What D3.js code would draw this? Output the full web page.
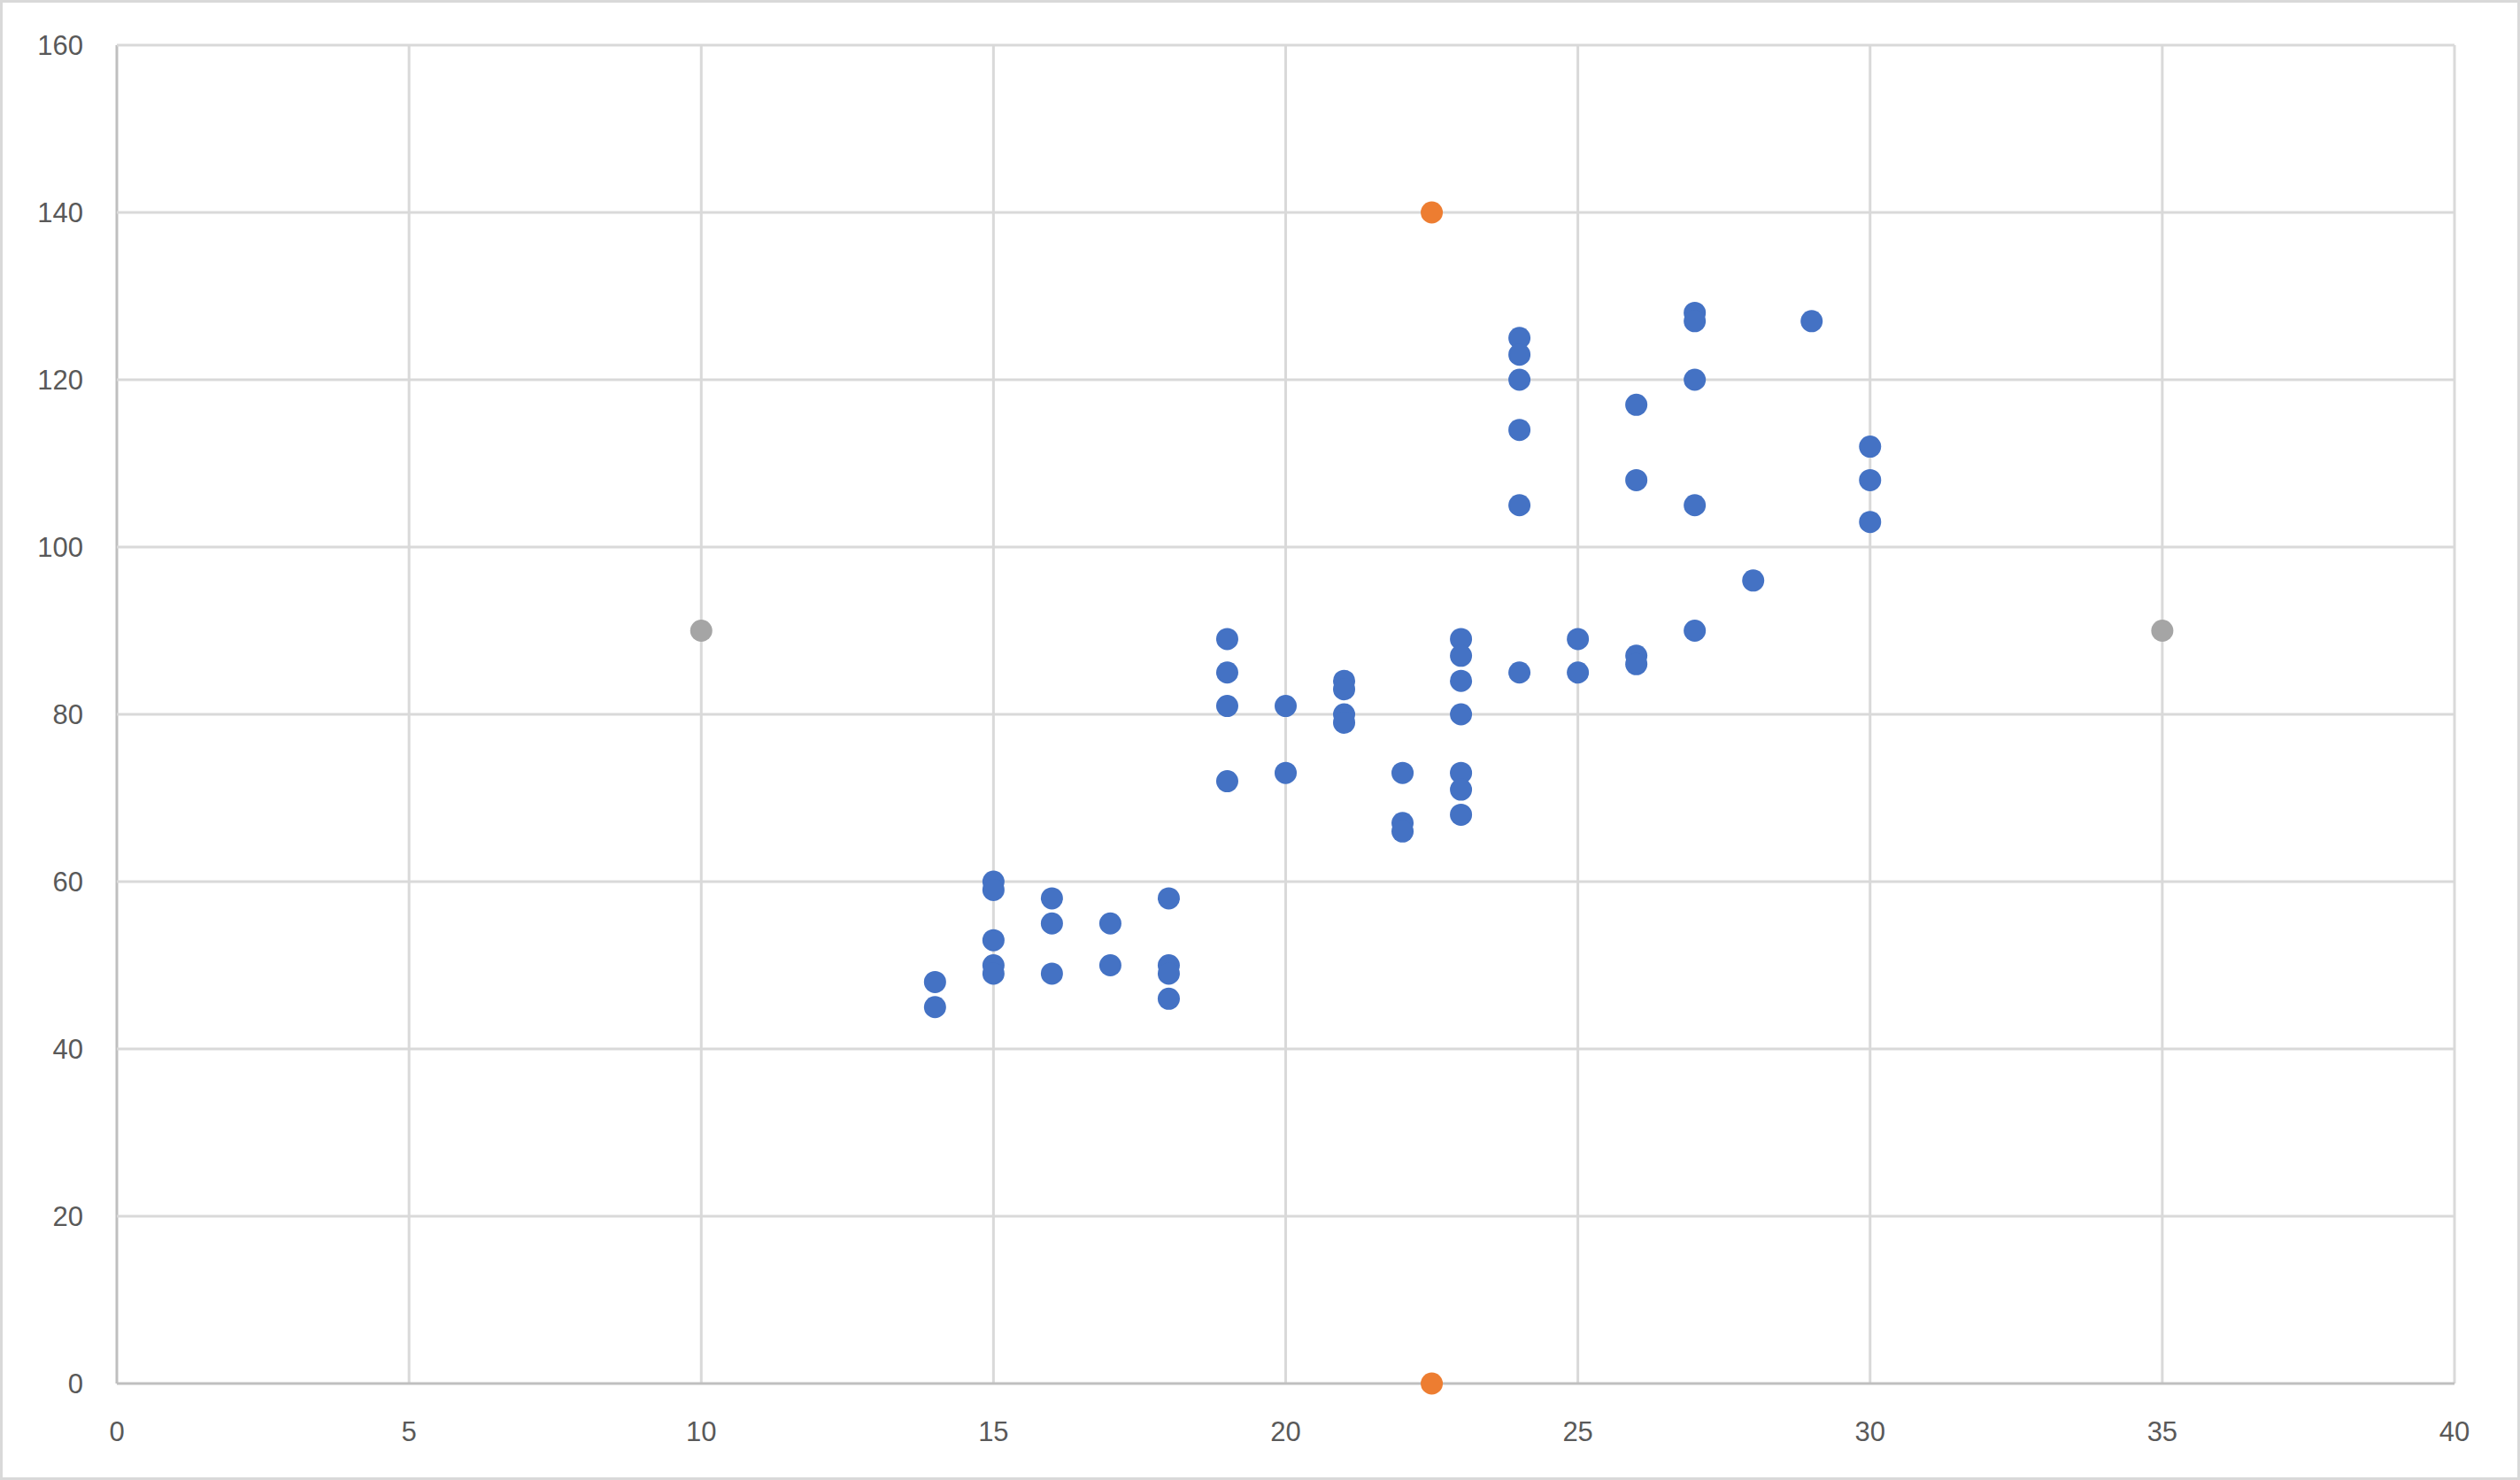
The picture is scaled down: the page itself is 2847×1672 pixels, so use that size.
<!DOCTYPE html>
<html><head><meta charset="utf-8">
<script src="https://cdn.jsdelivr.net/npm/d3@7"></script>
<style>html,body{margin:0;padding:0;background:#fff}</style>
</head><body>
<script>
const xTicks=[0,5,10,15,20,25,30,35,40];
const yTicks=[0,20,40,60,80,100,120,140,160];
const blueX=[14,14,15,15,15,15,15,16,16,16,17,17,18,18,18,18,19,19,19,19,20,20,21,21,21,21,22,22,22,23,23,23,23,23,23,23,24,24,24,24,24,24,25,25,26,26,26,26,27,27,27,27,27,28,29,30,30,30];
const blueY=[48,45,60,59,53,50,49,58,55,49,55,50,58,50,49,46,89,85,81,72,81,73,84,83,80,79,73,67,66,89,87,84,80,73,71,68,125,123,120,114,105,85,89,85,117,108,87,86,128,127,120,105,90,96,127,112,108,103];
const orangeX=[22.5,22.5], orangeY=[140,0];
const grayX=[10,35], grayY=[90,90];

const W=2847,H=1672,L=132,T=51,R=2773,B=1563;
const svg=d3.select("body").append("svg").attr("width",W).attr("height",H);
svg.append("rect").attr("x",1.5).attr("y",1.5).attr("width",W-3).attr("height",H-3).attr("fill","#fff").attr("stroke","#d9d9d9").attr("stroke-width",3);
const x=d3.scaleLinear().domain([0,40]).range([L,R]);
const y=d3.scaleLinear().domain([0,160]).range([B,T]);
const g=svg.append("g");
g.selectAll(".v").data(xTicks).join("line").attr("x1",d=>x(d)).attr("x2",d=>x(d)).attr("y1",T).attr("y2",B).attr("stroke",d=>d===0?"#bfbfbf":"#d9d9d9").attr("stroke-width",3);
g.selectAll(".h").data(yTicks).join("line").attr("y1",d=>y(d)).attr("y2",d=>y(d)).attr("x1",L).attr("x2",R).attr("stroke",d=>d===0?"#bfbfbf":"#d9d9d9").attr("stroke-width",3);
const font="Liberation Sans, Open Sans, sans-serif";
svg.selectAll(".xl").data(xTicks).join("text").attr("x",d=>x(d)).attr("y",1628).attr("text-anchor","middle").attr("font-family",font).attr("font-size",31).attr("fill","#595959").text(d=>d);
svg.selectAll(".yl").data(yTicks).join("text").attr("x",94).attr("y",d=>y(d)+11).attr("text-anchor","end").attr("font-family",font).attr("font-size",31).attr("fill","#595959").text(d=>d);
function pts(xs,ys,c){svg.append("g").selectAll("circle").data(xs.map((v,i)=>[v,ys[i]])).join("circle").attr("cx",d=>x(d[0])).attr("cy",d=>y(d[1])).attr("r",12.5).attr("fill",c);}
pts(grayX,grayY,"#a5a5a5");
pts(orangeX,orangeY,"#ed7d31");
pts(blueX,blueY,"#4472c4");
</script>
</body></html>
